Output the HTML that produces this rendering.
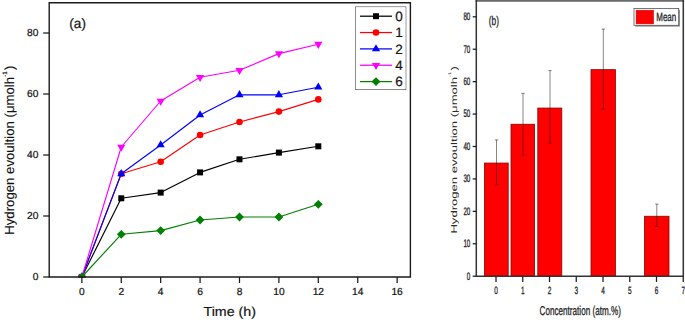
<!DOCTYPE html>
<html><head><meta charset="utf-8"><title>Hydrogen evolution</title>
<style>
html,body{margin:0;padding:0;background:#fff;}
body{width:685px;height:320px;overflow:hidden;}
svg{display:block;font-family:"Liberation Sans", sans-serif;text-rendering:geometricPrecision;}
</style></head>
<body>
<svg width="685" height="320" viewBox="0 0 685 320">
<rect width="685" height="320" fill="#ffffff"/>
<g id="left" style="paint-order:stroke">
<clipPath id="lc"><rect x="49.2" y="2.8" width="361.2" height="274.8"/></clipPath>
<g clip-path="url(#lc)">
<polyline points="81.85,277.00 121.26,198.30 160.67,192.60 200.08,172.40 239.49,159.30 278.90,152.60 318.31,146.30" fill="none" stroke="#000000" stroke-width="1.15" stroke-linejoin="round"/>
<rect x="78.85" y="274.00" width="6.0" height="6.0" fill="#000000"/>
<rect x="118.26" y="195.30" width="6.0" height="6.0" fill="#000000"/>
<rect x="157.67" y="189.60" width="6.0" height="6.0" fill="#000000"/>
<rect x="197.08" y="169.40" width="6.0" height="6.0" fill="#000000"/>
<rect x="236.49" y="156.30" width="6.0" height="6.0" fill="#000000"/>
<rect x="275.90" y="149.60" width="6.0" height="6.0" fill="#000000"/>
<rect x="315.31" y="143.30" width="6.0" height="6.0" fill="#000000"/>
<polyline points="81.85,277.00 121.26,173.80 160.67,161.80 200.08,135.00 239.49,122.00 278.90,111.60 318.31,99.40" fill="none" stroke="#ff0000" stroke-width="1.15" stroke-linejoin="round"/>
<circle cx="81.85" cy="277.00" r="3.3" fill="#ff0000"/>
<circle cx="121.26" cy="173.80" r="3.3" fill="#ff0000"/>
<circle cx="160.67" cy="161.80" r="3.3" fill="#ff0000"/>
<circle cx="200.08" cy="135.00" r="3.3" fill="#ff0000"/>
<circle cx="239.49" cy="122.00" r="3.3" fill="#ff0000"/>
<circle cx="278.90" cy="111.60" r="3.3" fill="#ff0000"/>
<circle cx="318.31" cy="99.40" r="3.3" fill="#ff0000"/>
<polyline points="81.85,277.00 121.26,173.80 160.67,145.00 200.08,115.00 239.49,94.80 278.90,94.80 318.31,87.20" fill="none" stroke="#0000ff" stroke-width="1.15" stroke-linejoin="round"/>
<polygon points="77.75,279.37 85.95,279.37 81.85,272.27" fill="#0000ff"/>
<polygon points="117.16,176.17 125.36,176.17 121.26,169.07" fill="#0000ff"/>
<polygon points="156.57,147.37 164.77,147.37 160.67,140.27" fill="#0000ff"/>
<polygon points="195.98,117.37 204.18,117.37 200.08,110.27" fill="#0000ff"/>
<polygon points="235.39,97.17 243.59,97.17 239.49,90.07" fill="#0000ff"/>
<polygon points="274.80,97.17 283.00,97.17 278.90,90.07" fill="#0000ff"/>
<polygon points="314.21,89.57 322.41,89.57 318.31,82.47" fill="#0000ff"/>
<polyline points="81.85,277.00 121.26,147.00 160.67,101.00 200.08,77.30 239.49,70.30 278.90,53.60 318.31,44.20" fill="none" stroke="#ff00ff" stroke-width="1.15" stroke-linejoin="round"/>
<polygon points="77.75,274.63 85.95,274.63 81.85,281.73" fill="#ff00ff"/>
<polygon points="117.16,144.63 125.36,144.63 121.26,151.73" fill="#ff00ff"/>
<polygon points="156.57,98.63 164.77,98.63 160.67,105.73" fill="#ff00ff"/>
<polygon points="195.98,74.93 204.18,74.93 200.08,82.03" fill="#ff00ff"/>
<polygon points="235.39,67.93 243.59,67.93 239.49,75.03" fill="#ff00ff"/>
<polygon points="274.80,51.23 283.00,51.23 278.90,58.33" fill="#ff00ff"/>
<polygon points="314.21,41.83 322.41,41.83 318.31,48.93" fill="#ff00ff"/>
<polyline points="81.85,277.00 121.26,234.30 160.67,230.60 200.08,220.00 239.49,217.00 278.90,217.00 318.31,204.30" fill="none" stroke="#008000" stroke-width="1.15" stroke-linejoin="round"/>
<polygon points="77.45,277.00 81.85,272.60 86.25,277.00 81.85,281.40" fill="#008000"/>
<polygon points="116.86,234.30 121.26,229.90 125.66,234.30 121.26,238.70" fill="#008000"/>
<polygon points="156.27,230.60 160.67,226.20 165.07,230.60 160.67,235.00" fill="#008000"/>
<polygon points="195.68,220.00 200.08,215.60 204.48,220.00 200.08,224.40" fill="#008000"/>
<polygon points="235.09,217.00 239.49,212.60 243.89,217.00 239.49,221.40" fill="#008000"/>
<polygon points="274.50,217.00 278.90,212.60 283.30,217.00 278.90,221.40" fill="#008000"/>
<polygon points="313.91,204.30 318.31,199.90 322.71,204.30 318.31,208.70" fill="#008000"/>
</g>
<path d="M49.2 277.0 V2.8 H410.4 V277.0 Z" fill="none" stroke="#1a1a1a" stroke-width="1.4"/>
<line x1="43.2" y1="277.00" x2="49.2" y2="277.00" stroke="#1a1a1a" stroke-width="1.25"/>
<text x="38.4" y="280.10" font-size="10.2" text-anchor="end" fill="#111" stroke="#111" stroke-width="0.22">0</text>
<line x1="43.2" y1="216.00" x2="49.2" y2="216.00" stroke="#1a1a1a" stroke-width="1.25"/>
<text x="38.4" y="219.10" font-size="10.2" text-anchor="end" fill="#111" stroke="#111" stroke-width="0.22">20</text>
<line x1="43.2" y1="155.00" x2="49.2" y2="155.00" stroke="#1a1a1a" stroke-width="1.25"/>
<text x="38.4" y="158.10" font-size="10.2" text-anchor="end" fill="#111" stroke="#111" stroke-width="0.22">40</text>
<line x1="43.2" y1="94.00" x2="49.2" y2="94.00" stroke="#1a1a1a" stroke-width="1.25"/>
<text x="38.4" y="97.10" font-size="10.2" text-anchor="end" fill="#111" stroke="#111" stroke-width="0.22">60</text>
<line x1="43.2" y1="33.00" x2="49.2" y2="33.00" stroke="#1a1a1a" stroke-width="1.25"/>
<text x="38.4" y="36.10" font-size="10.2" text-anchor="end" fill="#111" stroke="#111" stroke-width="0.22">80</text>
<line x1="81.85" y1="277.0" x2="81.85" y2="283.0" stroke="#1a1a1a" stroke-width="1.25"/>
<text x="81.85" y="294.6" font-size="10.2" text-anchor="middle" fill="#111" stroke="#111" stroke-width="0.22">0</text>
<line x1="121.26" y1="277.0" x2="121.26" y2="283.0" stroke="#1a1a1a" stroke-width="1.25"/>
<text x="121.26" y="294.6" font-size="10.2" text-anchor="middle" fill="#111" stroke="#111" stroke-width="0.22">2</text>
<line x1="160.67" y1="277.0" x2="160.67" y2="283.0" stroke="#1a1a1a" stroke-width="1.25"/>
<text x="160.67" y="294.6" font-size="10.2" text-anchor="middle" fill="#111" stroke="#111" stroke-width="0.22">4</text>
<line x1="200.08" y1="277.0" x2="200.08" y2="283.0" stroke="#1a1a1a" stroke-width="1.25"/>
<text x="200.08" y="294.6" font-size="10.2" text-anchor="middle" fill="#111" stroke="#111" stroke-width="0.22">6</text>
<line x1="239.49" y1="277.0" x2="239.49" y2="283.0" stroke="#1a1a1a" stroke-width="1.25"/>
<text x="239.49" y="294.6" font-size="10.2" text-anchor="middle" fill="#111" stroke="#111" stroke-width="0.22">8</text>
<line x1="278.90" y1="277.0" x2="278.90" y2="283.0" stroke="#1a1a1a" stroke-width="1.25"/>
<text x="278.90" y="294.6" font-size="10.2" text-anchor="middle" fill="#111" stroke="#111" stroke-width="0.22">10</text>
<line x1="318.31" y1="277.0" x2="318.31" y2="283.0" stroke="#1a1a1a" stroke-width="1.25"/>
<text x="318.31" y="294.6" font-size="10.2" text-anchor="middle" fill="#111" stroke="#111" stroke-width="0.22">12</text>
<line x1="357.72" y1="277.0" x2="357.72" y2="283.0" stroke="#1a1a1a" stroke-width="1.25"/>
<text x="357.72" y="294.6" font-size="10.2" text-anchor="middle" fill="#111" stroke="#111" stroke-width="0.22">14</text>
<line x1="397.13" y1="277.0" x2="397.13" y2="283.0" stroke="#1a1a1a" stroke-width="1.25"/>
<text x="397.13" y="294.6" font-size="10.2" text-anchor="middle" fill="#111" stroke="#111" stroke-width="0.22">16</text>
<text transform="translate(203.5,315.9) scale(1.088,1)" font-size="13.1" fill="#111" stroke="#111" stroke-width="0.18">Time (h)</text>
<text x="69.3" y="27.8" font-size="13.6" fill="#111" stroke="#111" stroke-width="0.18">(a)</text>
<text transform="translate(14.3,234.8) rotate(-90)" font-size="13.2" fill="#111" stroke="#111" stroke-width="0.12">Hydrogen evoultion (μmolh<tspan font-size="6.4" dy="-7.8">-1</tspan><tspan dy="7.8" dx="1.2">)</tspan></text>
<rect x="355.6" y="7.1" width="50.1" height="82.2" fill="#fff" stroke="#3a3a3a" stroke-width="1.1"/>
<line x1="360" y1="16.20" x2="392" y2="16.20" stroke="#000000" stroke-width="1.25"/>
<rect x="373.00" y="13.20" width="6.0" height="6.0" fill="#000000"/>
<text x="395.2" y="21.00" font-size="13.5" fill="#111" stroke="#111" stroke-width="0.2">0</text>
<line x1="360" y1="32.55" x2="392" y2="32.55" stroke="#ff0000" stroke-width="1.25"/>
<circle cx="376.00" cy="32.55" r="3.3" fill="#ff0000"/>
<text x="395.2" y="37.35" font-size="13.5" fill="#111" stroke="#111" stroke-width="0.2">1</text>
<line x1="360" y1="48.90" x2="392" y2="48.90" stroke="#0000ff" stroke-width="1.25"/>
<polygon points="371.90,51.27 380.10,51.27 376.00,44.17" fill="#0000ff"/>
<text x="395.2" y="53.70" font-size="13.5" fill="#111" stroke="#111" stroke-width="0.2">2</text>
<line x1="360" y1="65.25" x2="392" y2="65.25" stroke="#ff00ff" stroke-width="1.25"/>
<polygon points="371.90,62.88 380.10,62.88 376.00,69.98" fill="#ff00ff"/>
<text x="395.2" y="70.05" font-size="13.5" fill="#111" stroke="#111" stroke-width="0.2">4</text>
<line x1="360" y1="81.60" x2="392" y2="81.60" stroke="#008000" stroke-width="1.25"/>
<polygon points="371.60,81.60 376.00,77.20 380.40,81.60 376.00,86.00" fill="#008000"/>
<text x="395.2" y="86.40" font-size="13.5" fill="#111" stroke="#111" stroke-width="0.2">6</text>
</g>
<g id="right">
<rect x="484.4" y="163.05" width="23.80" height="113.15" fill="#ff0000" stroke="#8a0000" stroke-width="0.8"/>
<rect x="511.0" y="124.25" width="23.60" height="151.95" fill="#ff0000" stroke="#8a0000" stroke-width="0.8"/>
<rect x="537.8" y="108.05" width="24.00" height="168.15" fill="#ff0000" stroke="#8a0000" stroke-width="0.8"/>
<rect x="591.0" y="69.65" width="24.40" height="206.55" fill="#ff0000" stroke="#8a0000" stroke-width="0.8"/>
<rect x="644.4" y="216.25" width="24.60" height="59.95" fill="#ff0000" stroke="#8a0000" stroke-width="0.8"/>
<path d="M496.50 139.9 V184.8 M494.80 139.9 h3.4 M494.80 184.8 h3.4" fill="none" stroke="#2a2020" stroke-width="0.55"/>
<path d="M523.00 93.4 V155.2 M521.30 93.4 h3.4 M521.30 155.2 h3.4" fill="none" stroke="#2a2020" stroke-width="0.55"/>
<path d="M550.00 70.6 V143.2 M548.30 70.6 h3.4 M548.30 143.2 h3.4" fill="none" stroke="#2a2020" stroke-width="0.55"/>
<path d="M603.30 29.1 V108.9 M601.60 29.1 h3.4 M601.60 108.9 h3.4" fill="none" stroke="#2a2020" stroke-width="0.55"/>
<path d="M656.80 204.1 V226.5 M655.10 204.1 h3.4 M655.10 226.5 h3.4" fill="none" stroke="#2a2020" stroke-width="0.55"/>
<rect x="475.55" y="0" width="208.49999999999994" height="1.75" fill="#6a6a6a"/>
<path d="M476.3 0 V276.2 H683.3 V0" fill="none" stroke="#333" stroke-width="1.5"/>
<line x1="472.7" y1="276.20" x2="476.3" y2="276.20" stroke="#1c1c1c" stroke-width="1.25"/>
<text transform="translate(470.3,279.60) scale(0.57,1)" font-size="10.9" text-anchor="end" fill="#222" stroke="#222" stroke-width="0.3">0</text>
<line x1="472.7" y1="243.77" x2="476.3" y2="243.77" stroke="#1c1c1c" stroke-width="1.25"/>
<text transform="translate(470.3,247.17) scale(0.57,1)" font-size="10.9" text-anchor="end" fill="#222" stroke="#222" stroke-width="0.3">10</text>
<line x1="472.7" y1="211.35" x2="476.3" y2="211.35" stroke="#1c1c1c" stroke-width="1.25"/>
<text transform="translate(470.3,214.75) scale(0.57,1)" font-size="10.9" text-anchor="end" fill="#222" stroke="#222" stroke-width="0.3">20</text>
<line x1="472.7" y1="178.92" x2="476.3" y2="178.92" stroke="#1c1c1c" stroke-width="1.25"/>
<text transform="translate(470.3,182.32) scale(0.57,1)" font-size="10.9" text-anchor="end" fill="#222" stroke="#222" stroke-width="0.3">30</text>
<line x1="472.7" y1="146.50" x2="476.3" y2="146.50" stroke="#1c1c1c" stroke-width="1.25"/>
<text transform="translate(470.3,149.90) scale(0.57,1)" font-size="10.9" text-anchor="end" fill="#222" stroke="#222" stroke-width="0.3">40</text>
<line x1="472.7" y1="114.07" x2="476.3" y2="114.07" stroke="#1c1c1c" stroke-width="1.25"/>
<text transform="translate(470.3,117.47) scale(0.57,1)" font-size="10.9" text-anchor="end" fill="#222" stroke="#222" stroke-width="0.3">50</text>
<line x1="472.7" y1="81.65" x2="476.3" y2="81.65" stroke="#1c1c1c" stroke-width="1.25"/>
<text transform="translate(470.3,85.05) scale(0.57,1)" font-size="10.9" text-anchor="end" fill="#222" stroke="#222" stroke-width="0.3">60</text>
<line x1="472.7" y1="49.22" x2="476.3" y2="49.22" stroke="#1c1c1c" stroke-width="1.25"/>
<text transform="translate(470.3,52.62) scale(0.57,1)" font-size="10.9" text-anchor="end" fill="#222" stroke="#222" stroke-width="0.3">70</text>
<line x1="472.7" y1="16.80" x2="476.3" y2="16.80" stroke="#1c1c1c" stroke-width="1.25"/>
<text transform="translate(470.3,20.20) scale(0.57,1)" font-size="10.9" text-anchor="end" fill="#222" stroke="#222" stroke-width="0.3">80</text>
<line x1="496.00" y1="276.2" x2="496.00" y2="282.0" stroke="#1c1c1c" stroke-width="1.25"/>
<text transform="translate(496.00,293.6) scale(0.61,1)" font-size="10.6" text-anchor="middle" fill="#222" stroke="#222" stroke-width="0.3">0</text>
<line x1="522.75" y1="276.2" x2="522.75" y2="282.0" stroke="#1c1c1c" stroke-width="1.25"/>
<text transform="translate(522.75,293.6) scale(0.61,1)" font-size="10.6" text-anchor="middle" fill="#222" stroke="#222" stroke-width="0.3">1</text>
<line x1="549.50" y1="276.2" x2="549.50" y2="282.0" stroke="#1c1c1c" stroke-width="1.25"/>
<text transform="translate(549.50,293.6) scale(0.61,1)" font-size="10.6" text-anchor="middle" fill="#222" stroke="#222" stroke-width="0.3">2</text>
<line x1="576.25" y1="276.2" x2="576.25" y2="282.0" stroke="#1c1c1c" stroke-width="1.25"/>
<text transform="translate(576.25,293.6) scale(0.61,1)" font-size="10.6" text-anchor="middle" fill="#222" stroke="#222" stroke-width="0.3">3</text>
<line x1="603.00" y1="276.2" x2="603.00" y2="282.0" stroke="#1c1c1c" stroke-width="1.25"/>
<text transform="translate(603.00,293.6) scale(0.61,1)" font-size="10.6" text-anchor="middle" fill="#222" stroke="#222" stroke-width="0.3">4</text>
<line x1="629.75" y1="276.2" x2="629.75" y2="282.0" stroke="#1c1c1c" stroke-width="1.25"/>
<text transform="translate(629.75,293.6) scale(0.61,1)" font-size="10.6" text-anchor="middle" fill="#222" stroke="#222" stroke-width="0.3">5</text>
<line x1="656.50" y1="276.2" x2="656.50" y2="282.0" stroke="#1c1c1c" stroke-width="1.25"/>
<text transform="translate(656.50,293.6) scale(0.61,1)" font-size="10.6" text-anchor="middle" fill="#222" stroke="#222" stroke-width="0.3">6</text>
<line x1="683.25" y1="276.2" x2="683.25" y2="282.0" stroke="#1c1c1c" stroke-width="1.25"/>
<text transform="translate(683.25,293.6) scale(0.61,1)" font-size="10.6" text-anchor="middle" fill="#222" stroke="#222" stroke-width="0.3">7</text>
<text transform="translate(539.6,314.7) scale(0.635,1)" font-size="12.8" fill="#222" stroke="#222" stroke-width="0.3">Concentration (atm.%)</text>
<text transform="translate(488.8,24.8) scale(0.66,1)" font-size="12.6" fill="#222" stroke="#222" stroke-width="0.3">(b)</text>
<text transform="translate(456.8,233.6) rotate(-90) scale(1.10,0.72)" font-size="11.9" fill="#2a2a2a">Hydrogen evoultion (μmolh<tspan font-size="5.4" dy="-7.4">-1</tspan><tspan dy="7.4" dx="1.2">)</tspan></text>
<rect x="635.2" y="9.8" width="44.7" height="16.8" fill="#8a8a8a"/>
<rect x="634.0" y="8.5" width="44.7" height="16.8" fill="#fff" stroke="#555" stroke-width="0.8"/>
<rect x="636.1" y="10.2" width="17.5" height="13.7" fill="#ff0000" stroke="#c80000" stroke-width="0.5"/>
<text transform="translate(656.3,21.0) scale(0.67,1)" font-size="11.9" fill="#222" stroke="#222" stroke-width="0.3">Mean</text>
</g>
</svg>
</body></html>
